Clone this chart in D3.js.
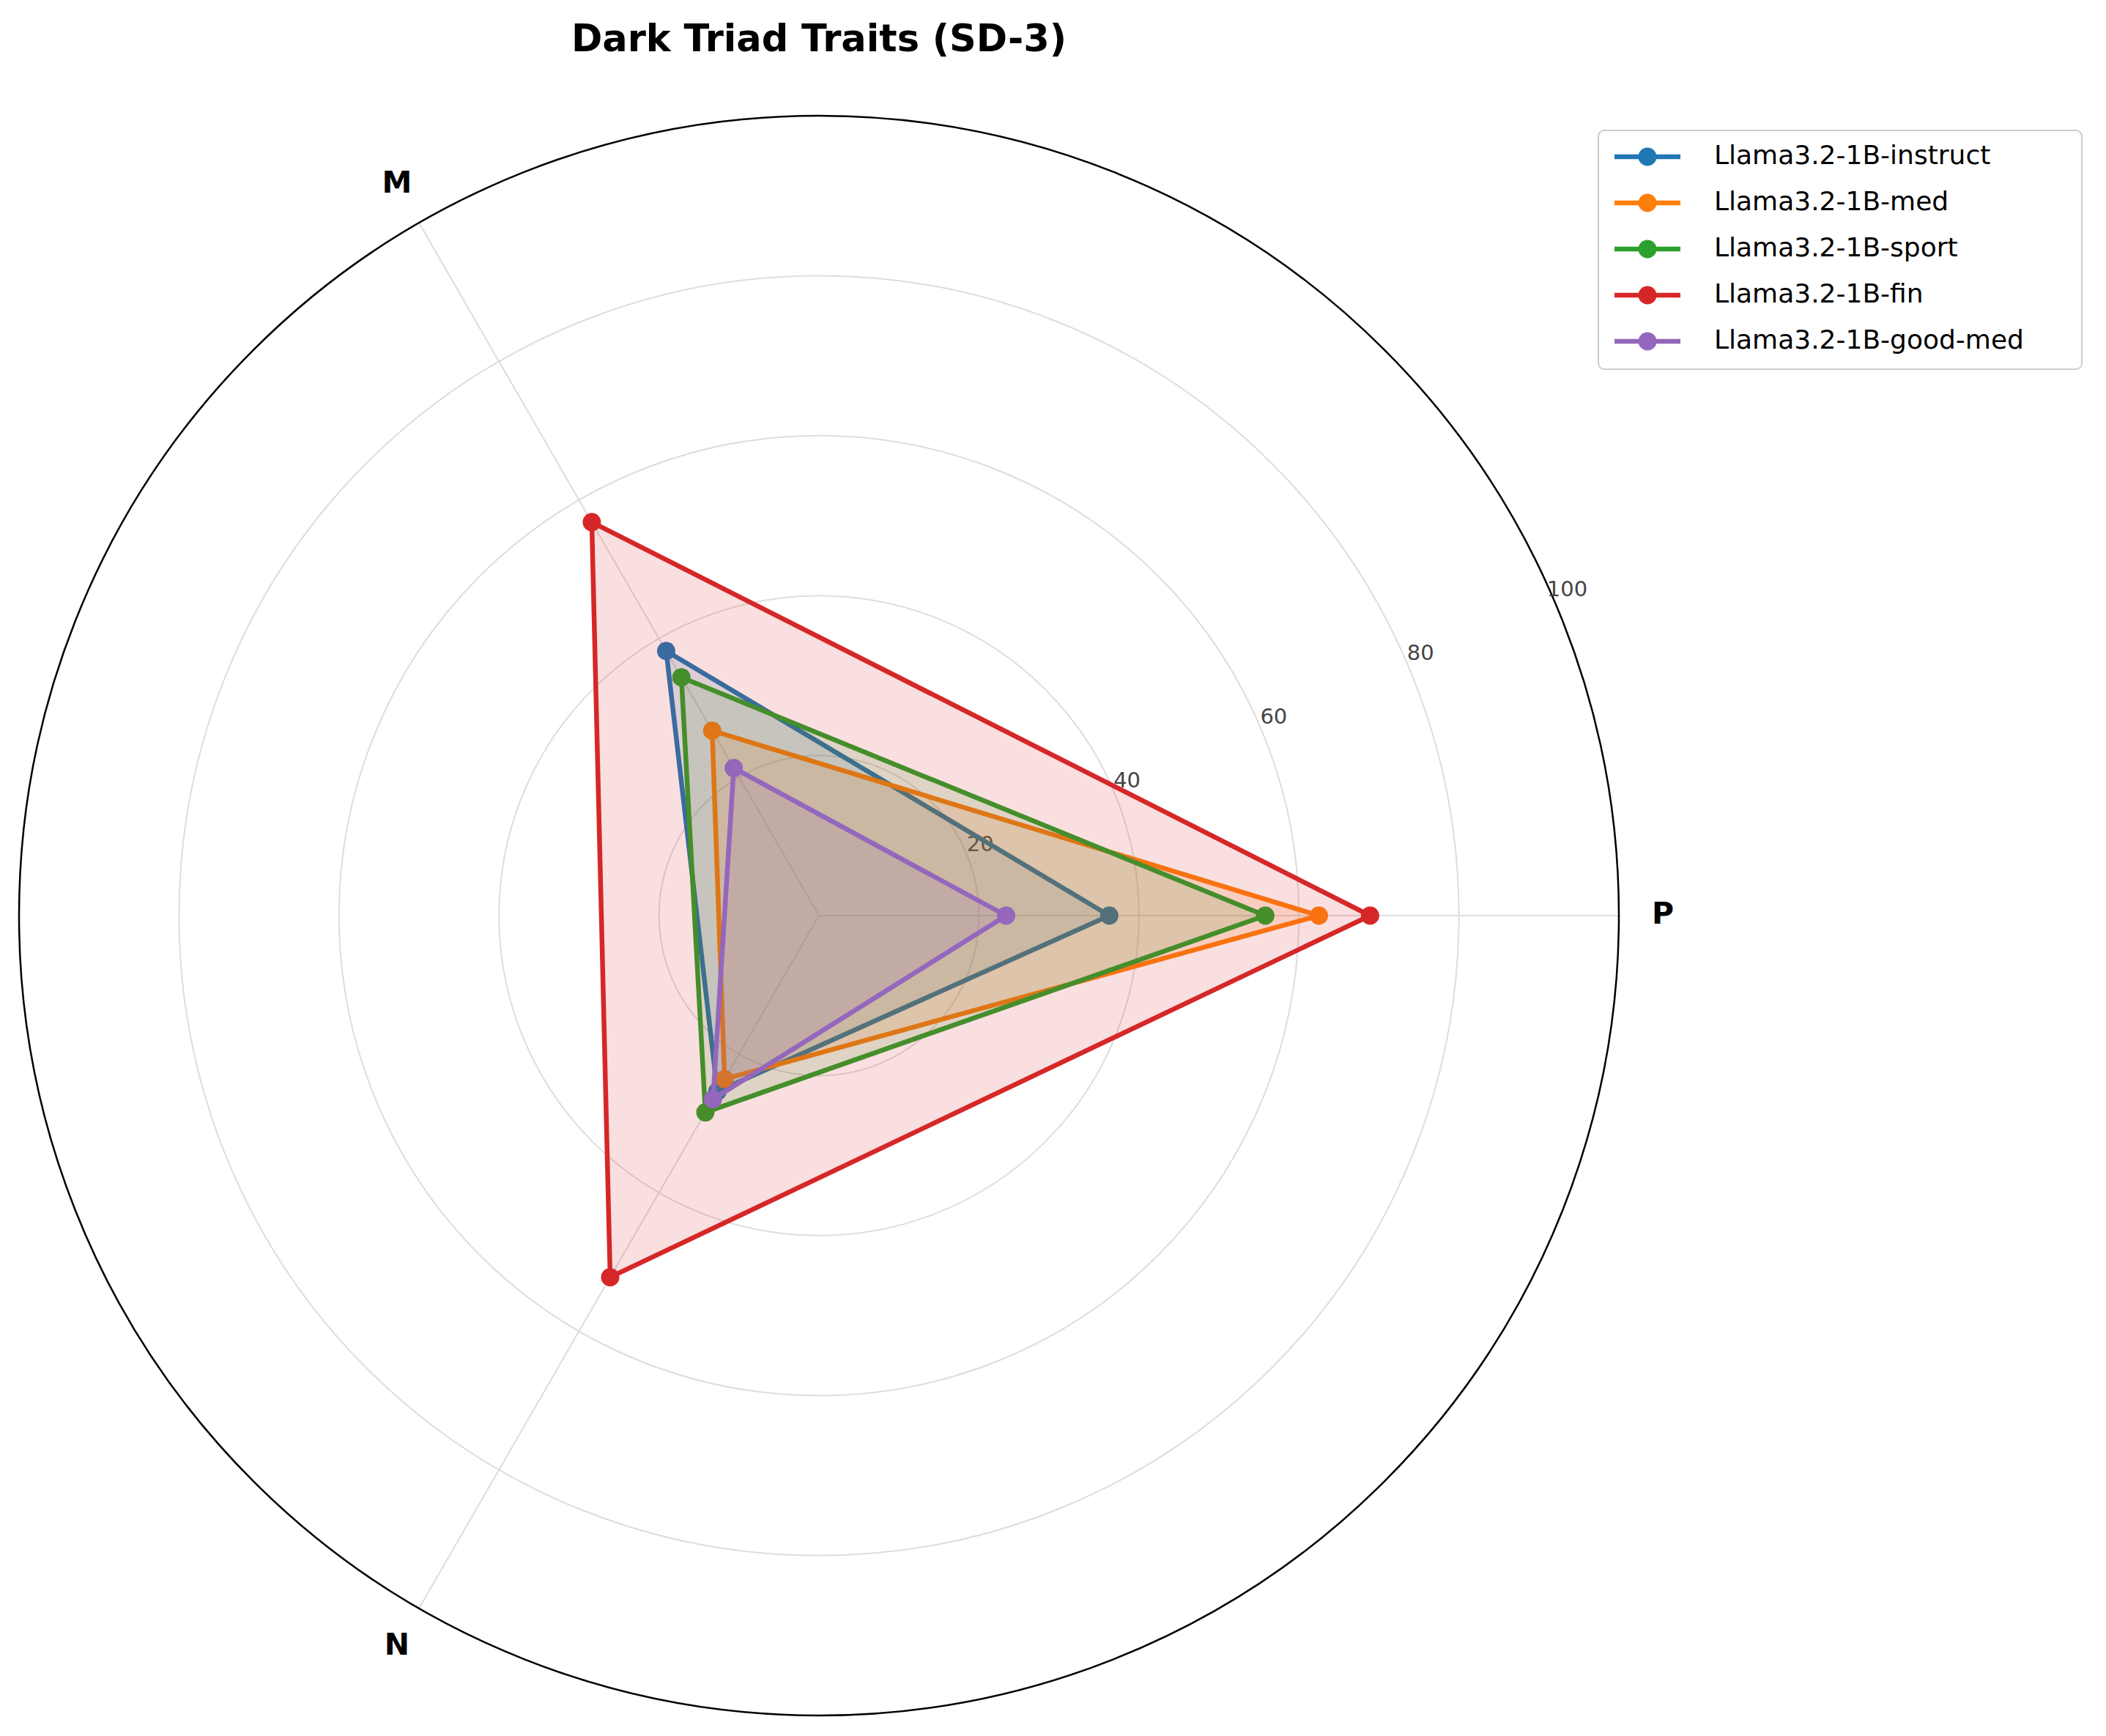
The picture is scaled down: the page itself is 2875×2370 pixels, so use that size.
<!DOCTYPE html>
<html><head><meta charset="utf-8">
<script src="https://cdn.jsdelivr.net/npm/d3@7"></script>
<style>body{margin:0;background:#fff}svg{font-family:"DejaVu Sans",sans-serif}</style>
</head><body><svg id="c" width="2875" height="2370"></svg>
<script>
const axesLabels = ["P","M","N"];
const seriesNames = ["Llama3.2-1B-instruct","Llama3.2-1B-med","Llama3.2-1B-sport","Llama3.2-1B-fin","Llama3.2-1B-good-med"];
const colors = ["#1f77b4","#ff7f0e","#2ca02c","#d62728","#9467bd"];
const instruct = [36.3,38.2,25.4];
const med = [62.5,26.7,23.6];
const sport = [55.8,34.4,28.4];
const fin = [68.9,56.8,52.2];
const goodMed = [23.4,21.3,26.5];
const tickValues = [20,40,60,80,100];
const allSeries = [instruct,med,sport,fin,goodMed];

const svg = d3.select("#c");
const cx = 1118, cy = 1250;
const r = d3.scaleLinear().domain([0,100]).range([0,1092]);
const ang = i => -i*2*Math.PI/3;
const pt = (v,i) => [cx + r(v)*Math.cos(ang(i)), cy + r(v)*Math.sin(ang(i))];
const g = svg.append("g");
tickValues.slice(0,4).forEach(t=>g.append("circle").attr("cx",cx).attr("cy",cy).attr("r",r(t)).attr("fill","none").attr("stroke","#dddddd").attr("stroke-width",2));
axesLabels.forEach((a,i)=>{const p=pt(100,i);g.append("line").attr("x1",cx).attr("y1",cy).attr("x2",p[0]).attr("y2",p[1]).attr("stroke","#dddddd").attr("stroke-width",2);});
g.append("circle").attr("cx",cx).attr("cy",cy).attr("r",r(100)).attr("fill","none").attr("stroke","#000").attr("stroke-width",2.5);
const la = -23.5*Math.PI/180;
tickValues.forEach(t=>g.append("text").attr("x",cx+r(t+2)*Math.cos(la)).attr("y",cy+r(t+2)*Math.sin(la)).attr("text-anchor","middle").attr("dominant-baseline","middle").attr("font-size",29).attr("fill","#444").text(t));
axesLabels.forEach((a,i)=>{const p=pt(105.5,i);g.append("text").attr("x",p[0]).attr("y",p[1]).attr("text-anchor","middle").attr("dominant-baseline","middle").attr("font-size",41).attr("font-weight","bold").text(a);});
const line = d3.line();
allSeries.forEach((s,k)=>{
  const pts = s.map((v,i)=>pt(v,i));
  g.append("path").attr("d",line(pts)+"Z").attr("fill",colors[k]).attr("fill-opacity",0.15).attr("stroke",colors[k]).attr("stroke-width",6.5).attr("stroke-linejoin","round");
  pts.forEach(p=>g.append("circle").attr("cx",p[0]).attr("cy",p[1]).attr("r",12.5).attr("fill",colors[k]));
});
svg.append("text").attr("x",1118).attr("y",70).attr("text-anchor","middle").attr("font-size",51).attr("font-weight","bold").text("Dark Triad Traits (SD-3)");
const lg = svg.append("g").attr("transform","translate(2182,178)");
lg.append("rect").attr("width",660).attr("height",326).attr("rx",8).attr("fill","#fff").attr("stroke","#ccc").attr("stroke-width",2);
seriesNames.forEach((n,k)=>{
  const y = 36+k*63;
  lg.append("line").attr("x1",22).attr("x2",112).attr("y1",y).attr("y2",y).attr("stroke",colors[k]).attr("stroke-width",6.5);
  lg.append("circle").attr("cx",67).attr("cy",y).attr("r",12.5).attr("fill",colors[k]);
  lg.append("text").attr("x",158).attr("y",y).attr("dominant-baseline","middle").attr("font-size",36).text(n);
});
</script></body></html>
